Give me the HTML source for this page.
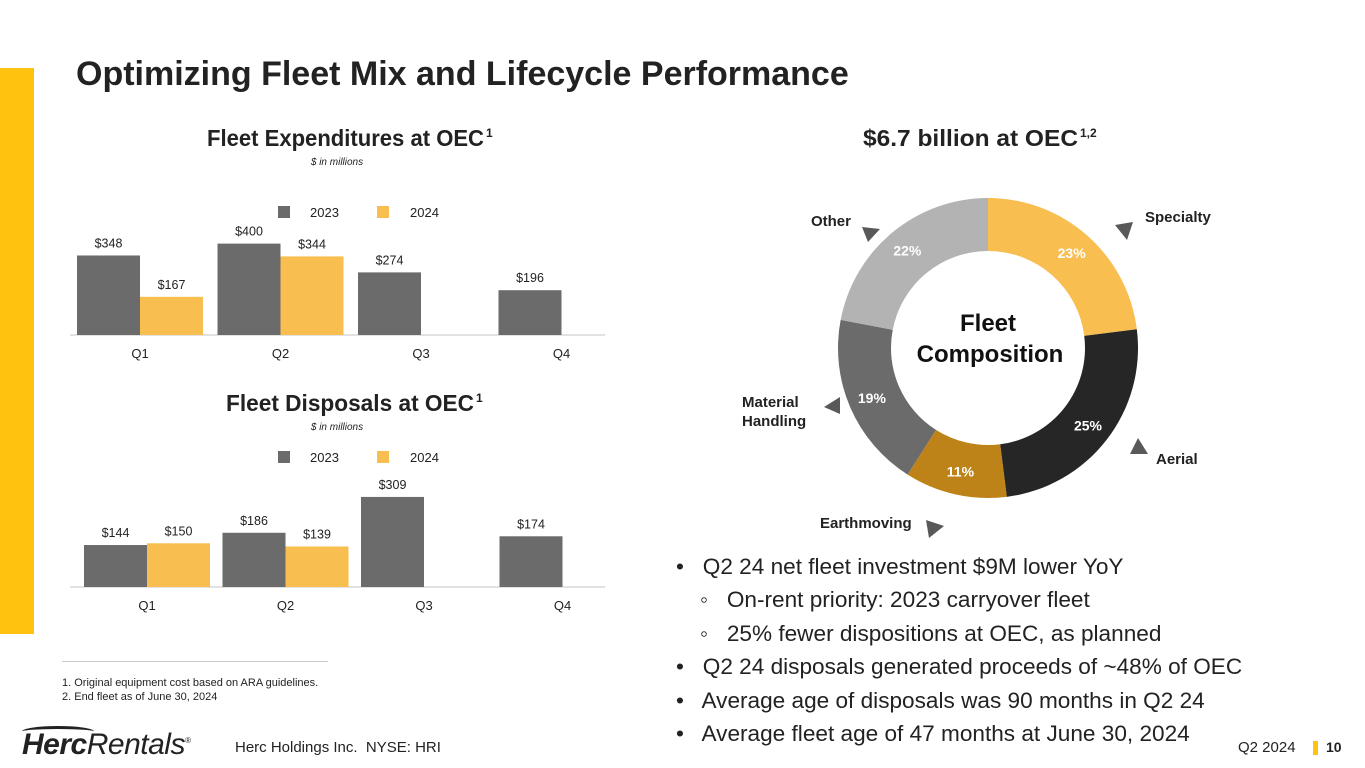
<!DOCTYPE html>
<html><head><meta charset="utf-8"><style>
body{margin:0;width:1365px;height:768px;background:#fff;font-family:"Liberation Sans",Arial,sans-serif;position:relative;overflow:hidden}
.a{position:absolute}
</style></head><body>
<div class="a" style="left:0;top:68px;width:34px;height:566px;background:#FFC20E"></div>
<div class="a" style="left:76px;top:55px;font-size:34px;font-weight:bold;color:#222">Optimizing Fleet Mix and Lifecycle Performance</div>
<svg class="a" style="left:0;top:0" width="1365" height="768" id="svg"></svg>
<div class="a" style="left:676px;top:550px;font-size:22.6px;color:#222;line-height:33.4px">
<div>•&nbsp;&nbsp; Q2 24 net fleet investment $9M lower YoY</div>
<div style="padding-left:24px">◦&nbsp;&nbsp; On-rent priority: 2023 carryover fleet</div>
<div style="padding-left:24px">◦&nbsp;&nbsp; 25% fewer dispositions at OEC, as planned</div>
<div>•&nbsp;&nbsp; Q2 24 disposals generated proceeds of ~48% of OEC</div>
<div>•&nbsp;&nbsp; Average age of disposals was 90 months in Q2 24</div>
<div>•&nbsp;&nbsp; Average fleet age of 47 months at June 30, 2024</div>
</div>
<div class="a" style="left:62px;top:661px;width:266px;height:1px;background:#ccc"></div>
<div class="a" style="left:62px;top:676px;font-size:11px;color:#222;line-height:14px">1. Original equipment cost based on ARA guidelines.<br>2. End fleet as of June 30, 2024</div>
<div class="a" style="left:22px;top:728px;font-size:30px;color:#222;font-style:italic;letter-spacing:-0.5px"><b>Herc</b>Rentals<sup style="font-size:8px">®</sup></div>
<div class="a" style="left:22px;top:726px;width:72px;height:8px;border-top:3px solid #222;border-radius:60% 60% 0 0"></div>
<div class="a" style="left:235px;top:739px;font-size:15px;color:#222">Herc Holdings Inc.&nbsp; NYSE: HRI</div>
<div class="a" style="left:1238px;top:739px;font-size:15px;color:#222">Q2 2024</div>
<div class="a" style="left:1313px;top:741px;width:5px;height:14px;background:#FFC20E"></div>
<div class="a" style="left:1326px;top:739px;font-size:14px;font-weight:bold;color:#222">10</div>
<script>
const quarters=["Q1","Q2","Q3","Q4"];
const exp2023=[348,400,274,196];
const exp2024=[167,344,null,null];
const disp2023=[144,186,309,174];
const disp2024=[150,139,null,null];
const segNames=["Specialty","Aerial","Earthmoving","Material Handling","Other"];
const segValues=[23,25,11,19,22];
const NS="http://www.w3.org/2000/svg";
const svg=document.getElementById('svg');
function mk(t,a,txt){const e=document.createElementNS(NS,t);for(const k in a)e.setAttribute(k,a[k]);if(txt!=null)e.textContent=txt;svg.appendChild(e);return e;}
function title(txt,sup,x0,x1,y,key){
  let t=mk('text',{x:x0,y:y,'font-size':23,'font-weight':'bold',fill:'#222',textLength:x1-x0,lengthAdjust:'spacingAndGlyphs'},txt);
  
  t=mk('text',{x:x1+2,y:y-9,'font-size':12,'font-weight':'bold',fill:'#222'},sup);
  
}
function barChart(cfg){
  const {ttl,x0,x1,top,legY,base,scale,g0,gw,s1,s2,key}=cfg;
  title(ttl,'1',x0,x1,top,key+'-title');
  let t=mk('text',{x:337,y:top+19,'text-anchor':'middle','font-size':10,'font-style':'italic',fill:'#222'},'$ in millions');
  
  const ly=legY;
  let e=mk('rect',{x:278,y:ly-12,width:12,height:12,fill:'#6b6b6b'});
  e=mk('text',{x:310,y:ly-1,'font-size':13,fill:'#222'},'2023');
  e=mk('rect',{x:377,y:ly-12,width:12,height:12,fill:'#F9BE50'});
  e=mk('text',{x:410,y:ly-1,'font-size':13,fill:'#222'},'2024');
  e=mk('line',{x1:70,x2:605,y1:base,y2:base,stroke:'#d9d9d9','stroke-width':1.5});
  const y=v=>base-v*scale;
  quarters.forEach((q,i)=>{
    const bx=g0+i*gw;
    [[s1[i],'#6b6b6b',0,'2023'],[s2[i],'#F9BE50',63,'2024']].forEach(([v,c,dx,yr])=>{
      if(v==null)return;
      let r=mk('rect',{x:bx+dx,y:y(v),width:63,height:base-y(v),fill:c});
      
      let l=mk('text',{x:bx+dx+31.5,y:y(v)-8,'text-anchor':'middle','font-size':12.5,fill:'#222'},'$'+v);
      
    });
    let tl=mk('text',{x:bx+63,y:base+23,'text-anchor':'middle','font-size':13,fill:'#222'},q);
    
  });
}
barChart({ttl:'Fleet Expenditures at OEC',x0:207,x1:484,top:146,legY:218,base:335,scale:0.2285,g0:77,gw:140.5,s1:exp2023,s2:exp2024,key:'expenditures'});
barChart({ttl:'Fleet Disposals at OEC',x0:226,x1:474,top:411,legY:463,base:587,scale:0.2915,g0:84,gw:138.5,s1:disp2023,s2:disp2024,key:'disposals'});
const cx=988,cy=348,R=150,r=97;
const cols=['#F9BE50','#262626','#BE8318','#6b6b6b','#b3b3b3'];
const tot=segValues.reduce((a,b)=>a+b,0);
let ang=0;
const P=(a,rad)=>[cx+rad*Math.sin(a),cy-rad*Math.cos(a)];
segValues.forEach((v,i)=>{
  const a0=ang,a1=ang+v/tot*2*Math.PI;ang=a1;
  const L=(a1-a0)>Math.PI?1:0;
  const [x1,y1]=P(a0,R),[x2,y2]=P(a1,R),[x3,y3]=P(a1,r),[x4,y4]=P(a0,r);
  let p=mk('path',{d:`M${x1},${y1}A${R},${R} 0 ${L} 1 ${x2},${y2}L${x3},${y3}A${r},${r} 0 ${L} 0 ${x4},${y4}Z`,fill:cols[i]});
  
  const m=(a0+a1)/2;const [lx,ly]=P(m,(R+r)/2+3);
  let t=mk('text',{x:lx,y:ly+5,'text-anchor':'middle','font-size':14,'font-weight':'bold',fill:'#fff'},v+'%');
  
});
let e=mk('text',{x:988,y:331,'text-anchor':'middle','font-size':24,'font-weight':'bold',fill:'#111'},'Fleet');
e=mk('text',{x:990,y:362,'text-anchor':'middle','font-size':24,'font-weight':'bold',fill:'#111'},'Composition');
title('$6.7 billion at OEC','1,2',863,1078,146,'donut-title');
const labs=[['Specialty',1145,222,'start'],['Aerial',1156,464,'start'],['Earthmoving',820,528,'start'],['Other',851,226,'end']];
labs.forEach(([t,x,y,an])=>{const el=mk('text',{x,y,'text-anchor':an,'font-size':15,'font-weight':'bold',fill:'#222'},t);});
e=mk('text',{x:742,y:407,'font-size':15,'font-weight':'bold',fill:'#222'});e.innerHTML='Material<tspan x="742" dy="19">Handling</tspan>';
const tris=["1115,225 1133,222 1127,240","1130,454 1148,454 1138,438","926,520 944,526 929,538","862,227 880,229 868,242","824,407 840,397 840,414"];
tris.forEach(pt=>{const el=mk('polygon',{points:pt,fill:'#595959'});});
</script>
</body></html>
